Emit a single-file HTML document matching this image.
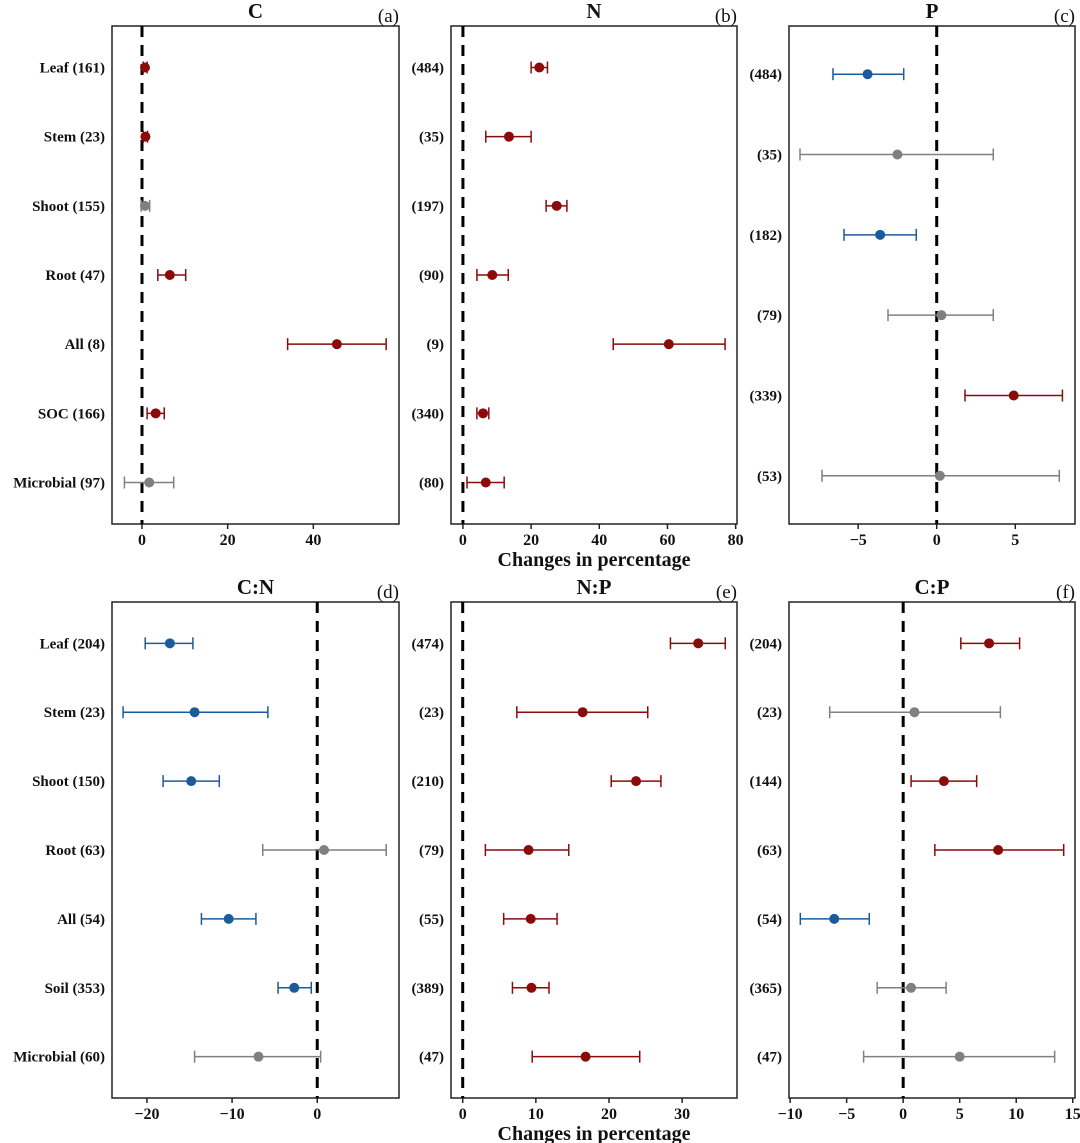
<!DOCTYPE html>
<html><head><meta charset="utf-8"><style>
html,body{margin:0;padding:0;background:#fff}
svg{display:block}
text{font-family:"Liberation Serif",serif;font-weight:bold;fill:#111}
</style></head><body>
<svg id="chart" width="1080" height="1143" viewBox="0 0 1080 1143" xmlns="http://www.w3.org/2000/svg"></svg>
<script>
// ---- data ----
const titles = ["C","N","P","C:N","N:P","C:P"];
const panelTags = ["(a)","(b)","(c)","(d)","(e)","(f)"];
const labelsA = ["Leaf (161)","Stem (23)","Shoot (155)","Root (47)","All (8)","SOC (166)","Microbial (97)"];
const meanA = [0.7,0.8,0.7,6.5,45.5,3.2,1.7];
const loA = [0.3,0.3,-0.2,3.7,34,1.2,-4.1];
const hiA = [1.2,1.3,1.8,10.2,57,5.2,7.4];
const labelsB = ["(484)","(35)","(197)","(90)","(9)","(340)","(80)"];
const meanB = [22.4,13.5,27.5,8.6,60.4,5.9,6.7];
const loB = [20,6.7,24.4,4.1,44.1,4.1,1.2];
const hiB = [24.8,20,30.5,13.3,76.9,7.6,12.1];
const labelsC = ["(484)","(35)","(182)","(79)","(339)","(53)"];
const meanC = [-4.4,-2.5,-3.6,0.3,4.9,0.2];
const loC = [-6.6,-8.7,-5.9,-3.1,1.8,-7.3];
const hiC = [-2.1,3.6,-1.3,3.6,8.0,7.8];
const labelsD = ["Leaf (204)","Stem (23)","Shoot (150)","Root (63)","All (54)","Soil (353)","Microbial (60)"];
const meanD = [-17.3,-14.4,-14.8,0.8,-10.4,-2.7,-6.9];
const loD = [-20.2,-22.8,-18.1,-6.4,-13.6,-4.6,-14.4];
const hiD = [-14.6,-5.8,-11.5,8.1,-7.2,-0.7,0.4];
const labelsE = ["(474)","(23)","(210)","(79)","(55)","(389)","(47)"];
const meanE = [32.2,16.4,23.7,9.0,9.3,9.4,16.8];
const loE = [28.4,7.4,20.3,3.1,5.6,6.8,9.5];
const hiE = [35.9,25.3,27.1,14.5,12.9,11.8,24.2];
const labelsF = ["(204)","(23)","(144)","(63)","(54)","(365)","(47)"];
const meanF = [7.6,1.0,3.6,8.4,-6.1,0.7,5.0];
const loF = [5.1,-6.5,0.7,2.8,-9.1,-2.3,-3.5];
const hiF = [10.3,8.6,6.5,14.2,-3.0,3.8,13.4];
const ticksA = [0,20,40];
const ticksB = [0,20,40,60,80];
const ticksC = [-5,0,5];
const ticksD = [-20,-10,0];
const ticksE = [0,10,20,30];
const ticksF = [-10,-5,0,5,10,15];
const domA=[-7,60], domB=[-3.5,80.4], domC=[-9.4,8.8], domD=[-24.1,9.6], domE=[-1.6,37.5], domF=[-10.1,15.2];

const NS="http://www.w3.org/2000/svg";
const svg=document.getElementById('chart');
function mk(tag,attrs,parent){const e=document.createElementNS(NS,tag);for(const k in attrs)e.setAttribute(k,attrs[k]);(parent||svg).appendChild(e);return e;}

const panels=[
 {x0:112,x1:399,y0:26,y1:524,dom:domA,ticks:ticksA,labels:labelsA,m:meanA,lo:loA,hi:hiA,xt:false},
 {x0:451,x1:737,y0:26,y1:524,dom:domB,ticks:ticksB,labels:labelsB,m:meanB,lo:loB,hi:hiB,xt:true},
 {x0:789,x1:1075,y0:26,y1:524,dom:domC,ticks:ticksC,labels:labelsC,m:meanC,lo:loC,hi:hiC,xt:false},
 {x0:112,x1:399,y0:602,y1:1098,dom:domD,ticks:ticksD,labels:labelsD,m:meanD,lo:loD,hi:hiD,xt:false},
 {x0:451,x1:737,y0:602,y1:1098,dom:domE,ticks:ticksE,labels:labelsE,m:meanE,lo:loE,hi:hiE,xt:true},
 {x0:789,x1:1075,y0:602,y1:1098,dom:domF,ticks:ticksF,labels:labelsF,m:meanF,lo:loF,hi:hiF,xt:false}
];

panels.forEach((p,pi)=>{
  const g=mk('g',{});
  
  
  const sx=v=>p.x0+(v-p.dom[0])/(p.dom[1]-p.dom[0])*(p.x1-p.x0);
  const n=p.labels.length;
  const step=(p.y1-p.y0)/(n+0.2);
  const sy=i=>p.y0+step*(i+0.6);
  const frame=mk('rect',{x:p.x0,y:p.y0,width:p.x1-p.x0,height:p.y1-p.y0,fill:'none',stroke:'#222','stroke-width':1.5},g);
  
  
  const t=mk('text',{x:(p.x0+p.x1)/2,y:p.y0-8,'text-anchor':'middle','font-size':21},g);
  t.textContent=titles[pi];
  
  
  const tg=mk('text',{x:p.x1,y:p.y0-4,'text-anchor':'end','font-size':19,'font-weight':'normal'},g);
  tg.textContent=panelTags[pi];
  tg.style.fontWeight='normal';
  
  
  const zl=mk('line',{x1:sx(0),x2:sx(0),y1:p.y0,y2:p.y1,stroke:'#000','stroke-width':3,'stroke-dasharray':'11,8'},g);
  
  
  p.ticks.forEach(v=>{
    mk('line',{x1:sx(v),x2:sx(v),y1:p.y1,y2:p.y1+5,stroke:'#222','stroke-width':1.5},g);
    const tl=mk('text',{x:sx(v),y:p.y1+21,'text-anchor':'middle','font-size':16},g);
    tl.textContent=(v<0?'\u2212'+(-v):''+v);
    
    
  });
  if(p.xt){
    const xt=mk('text',{x:(p.x0+p.x1)/2,y:p.y1+42,'text-anchor':'middle','font-size':20},g);
    xt.textContent='Changes in percentage';
    
    
  }
  for(let i=0;i<n;i++){
    const y=sy(i);
    const lb=mk('text',{x:p.x0-7,y:y+5,'text-anchor':'end','font-size':15},g);
    lb.textContent=p.labels[i];
    
    
    const col=p.lo[i]>0?'#8b0a0a':(p.hi[i]<0?'#1b5b9c':'#808080');
    const eg=mk('g',{stroke:col,'stroke-width':1.5},g);
    
    
    mk('line',{x1:sx(p.lo[i]),x2:sx(p.hi[i]),y1:y,y2:y},eg);
    mk('line',{x1:sx(p.lo[i]),x2:sx(p.lo[i]),y1:y-6,y2:y+6},eg);
    mk('line',{x1:sx(p.hi[i]),x2:sx(p.hi[i]),y1:y-6,y2:y+6},eg);
    const c=mk('circle',{cx:sx(p.m[i]),cy:y,r:5,fill:col},g);
    
    
  }
});
</script>
</body></html>
